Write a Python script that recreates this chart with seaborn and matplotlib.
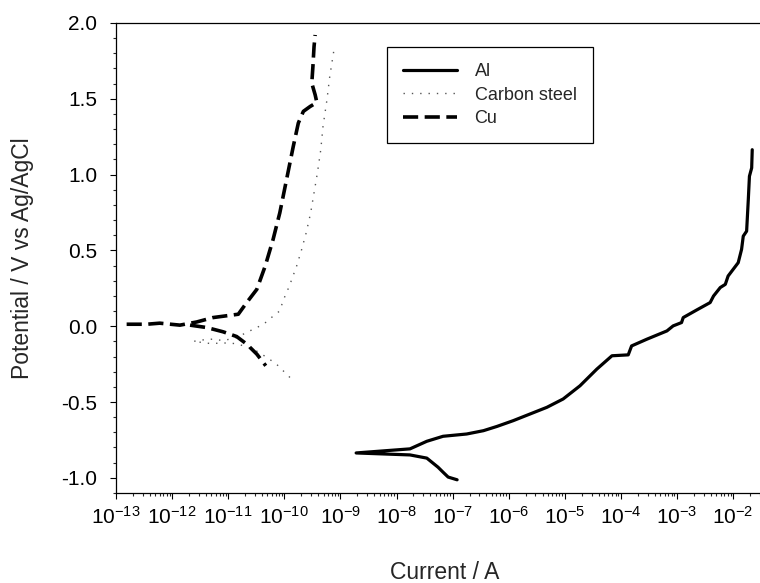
import numpy as np
import pandas as pd
import matplotlib
matplotlib.use('Agg')
import matplotlib.pyplot as plt
import matplotlib.ticker as mticker
import seaborn as sns

# Polarisation data (log10 of current in A, potential in V vs Ag/AgCl)
al_logi = [-6.92, -7.08, -7.17, -7.26, -7.37, -7.46, -7.76, -8.72,
           -7.76, -7.46, -7.17, -6.75, -6.45, -6.21, -5.92, -5.62, -5.32, -5.03,
           -4.73, -4.43, -4.16, -3.87, -3.81, -3.54, -3.18, -3.07, -2.92, -2.89,
           -2.65, -2.41, -2.35, -2.23, -2.14, -2.09, -1.91, -1.85, -1.82, -1.76,
           -1.73, -1.71, -1.67, -1.66]
al_e = [-1.013, -0.995, -0.963, -0.930, -0.897, -0.870, -0.849, -0.836,
        -0.809, -0.759, -0.726, -0.711, -0.689, -0.661, -0.623, -0.579, -0.535, -0.480,
        -0.393, -0.283, -0.195, -0.189, -0.130, -0.086, -0.031, 0.002, 0.024, 0.057,
        0.107, 0.156, 0.199, 0.255, 0.276, 0.331, 0.419, 0.507, 0.594, 0.627,
        0.836, 0.989, 1.044, 1.164]

cs_logi = [-9.90, -10.02, -10.14, -10.31, -10.55, -10.85, -11.10, -11.30, -11.62,
           -11.44, -11.27, -11.09, -10.85, -10.67, -10.37, -10.23, -10.08, -10.02,
           -9.91, -9.78, -9.69, -9.61, -9.53, -9.47, -9.41, -9.35, -9.31, -9.24,
           -9.19, -9.11]
cs_e = [-0.338, -0.294, -0.250, -0.206, -0.151, -0.115, -0.110, -0.115, -0.100,
        -0.090, -0.085, -0.095, -0.075, -0.041, 0.013, 0.057, 0.101, 0.170,
        0.265, 0.397, 0.507, 0.616, 0.748, 0.880, 1.011, 1.164, 1.318, 1.493,
        1.647, 1.834]

# Cu: anodic branch (with the flat part at the left) and cathodic branch
cu_a_logi = [-12.81, -12.45, -12.22, -11.86, -11.56, -11.27, -10.82, -10.67,
             -10.49, -10.34, -10.20, -10.08, -9.96, -9.84, -9.75, -9.66, -9.54,
             -9.42, -9.45, -9.51, -9.49, -9.47, -9.45]
cu_a_e = [0.013, 0.013, 0.020, 0.007, 0.028, 0.057, 0.079, 0.156,
          0.243, 0.397, 0.572, 0.748, 0.967, 1.186, 1.340, 1.417, 1.449,
          1.476, 1.526, 1.603, 1.713, 1.844, 1.921]
cu_c_logi = [-11.68, -11.38, -11.09, -10.85, -10.67, -10.49, -10.33]
cu_c_e = [0.007, -0.009, -0.037, -0.068, -0.118, -0.184, -0.261]

metals = ['Al', 'Carbon steel', 'Cu']

frames = [
    pd.DataFrame({'logi': al_logi, 'E': al_e, 'metal': 'Al', 'branch': 'al'}),
    pd.DataFrame({'logi': cs_logi, 'E': cs_e, 'metal': 'Carbon steel', 'branch': 'cs'}),
    pd.DataFrame({'logi': cu_a_logi, 'E': cu_a_e, 'metal': 'Cu', 'branch': 'cu_a'}),
    pd.DataFrame({'logi': cu_c_logi, 'E': cu_c_e, 'metal': 'Cu', 'branch': 'cu_c'}),
]
df = pd.concat(frames, ignore_index=True)
df['current'] = 10.0 ** df['logi']

sns.set_theme(style='ticks')
plt.rcParams['font.family'] = ['Liberation Sans', 'DejaVu Sans']
plt.rcParams['mathtext.fontset'] = 'custom'
plt.rcParams['mathtext.rm'] = 'Liberation Sans'
plt.rcParams['mathtext.it'] = 'Liberation Sans:italic'
plt.rcParams['mathtext.bf'] = 'Liberation Sans:bold'
plt.rcParams['axes.unicode_minus'] = False

fig = plt.figure(figsize=(7.6, 5.83), dpi=100)
ax = fig.add_axes([0.1526, 0.1544, 0.8645, 0.8062])

sns.lineplot(data=df, x='current', y='E', hue='metal', size='metal', style='metal',
             units='branch', estimator=None, sort=False,
             hue_order=metals, size_order=metals, style_order=metals,
             palette={'Al': 'black', 'Carbon steel': '#555555', 'Cu': 'black'},
             sizes={'Al': 2.3, 'Carbon steel': 1.0, 'Cu': 2.6},
             dashes={'Al': '', 'Carbon steel': (1, 5), 'Cu': (4.2, 1.8)},
             ax=ax)

ax.set_xscale('log')
ax.set_xlim(1e-13, 10 ** -1.29)
ax.set_ylim(-1.1, 2.0)

ax.xaxis.set_major_locator(mticker.LogLocator(base=10, numticks=20))
ax.xaxis.set_minor_locator(mticker.LogLocator(base=10, subs=np.arange(2, 10), numticks=20))
ax.xaxis.set_minor_formatter(mticker.NullFormatter())
ax.xaxis.set_major_formatter(mticker.LogFormatterMathtext())
ax.yaxis.set_major_locator(mticker.MultipleLocator(0.5))
ax.yaxis.set_minor_locator(mticker.MultipleLocator(0.1))
ax.yaxis.set_major_formatter(mticker.FormatStrFormatter('%.1f'))

ax.tick_params(which='major', direction='out', length=4.5, width=0.8, labelsize=15, colors='black')
ax.tick_params(which='minor', direction='out', length=2.3, width=0.8)
ax.tick_params(axis='y', which='major', pad=9)
ax.tick_params(axis='x', which='major', pad=5)

for side in ['left', 'bottom', 'top']:
    ax.spines[side].set_color('black')
    ax.spines[side].set_linewidth(0.9)
ax.spines['right'].set_visible(False)

ax.set_xlabel('Current / A', fontsize=16.5)
ax.set_ylabel('Potential / V vs Ag/AgCl', fontsize=16.5)
ax.xaxis.set_label_coords(0.5, -0.145)
ax.yaxis.set_label_coords(-0.125, 0.5)

old = ax.get_legend()
handles = old.legend_handles
labels = [t.get_text() for t in old.get_texts()]
old.remove()
leg = ax.legend(handles, labels, loc='upper left', bbox_to_anchor=(0.4125, 0.949),
                borderaxespad=0, fontsize=13, frameon=True, fancybox=False,
                edgecolor='black', framealpha=1, handlelength=3.0, handletextpad=0.95,
                labelspacing=0.35, borderpad=0.9)
leg.get_frame().set_linewidth(0.9)

fig.savefig('out.png', dpi=100)
